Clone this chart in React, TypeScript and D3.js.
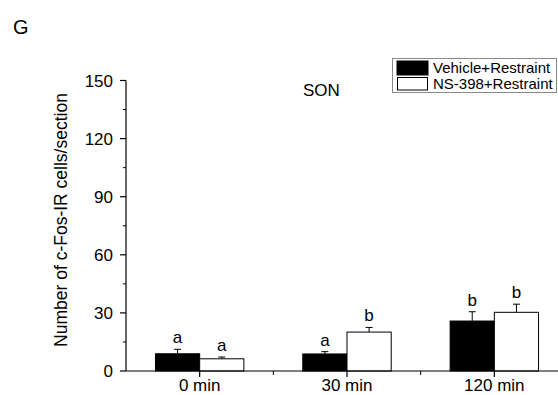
import React from "react";
import * as d3 from "d3";

const categories = ["0 min", "30 min", "120 min"];
const seriesNames = ["Vehicle+Restraint", "NS-398+Restraint"];
const vehicleMeans = [8.9, 8.8, 25.8];
const vehicleErr = [2.3, 1.2, 4.8];
const nsMeans = [6.3, 20.1, 30.3];
const nsErr = [0.9, 2.4, 4.2];
const vehicleLetters = ["a", "a", "b"];
const nsLetters = ["a", "b", "b"];
const yTicks = [0, 30, 60, 90, 120, 150];
const yMinorTicks = [15, 45, 75, 105, 135];

const font = "'Liberation Sans', Arial, Helvetica, sans-serif";

export default function App() {
  const width = 558;
  const height = 395;
  const axisX = 126;
  const axisY = 371;

  const y = d3.scaleLinear().domain([0, 150]).range([axisY, 80.5]);
  const x = d3.scaleBand().domain(categories).range([axisX, 568]).padding(0);
  const step = x.step();
  const sub = d3.scaleBand().domain(seriesNames).range([step * 0.2, step * 0.8]).padding(0);
  const bw = sub.bandwidth();

  const series = [
    { name: seriesNames[0], means: vehicleMeans, errs: vehicleErr, letters: vehicleLetters, fill: "#000" },
    { name: seriesNames[1], means: nsMeans, errs: nsErr, letters: nsLetters, fill: "#fff" },
  ];

  // minor x ticks sit between categories
  const minorX = categories.slice(1).map((c) => x(c) as number);

  return (
    <svg
      width={width}
      height={height}
      style={{ position: "absolute", left: 0, top: 0, background: "#fff" }}
      fontFamily={font}
    >
      <rect width={width} height={height} fill="#fff" />
      <text x={13} y={34} fontSize={20}>G</text>

      {/* bars */}
      {series.map((s) =>
        categories.map((c, i) => {
          const bx = (x(c) as number) + (sub(s.name) as number);
          const top = y(s.means[i]);
          const errTop = y(s.means[i] + s.errs[i]);
          const cx = bx + bw / 2;
          return (
            <g key={s.name + c}>
              <line x1={cx} x2={cx} y1={top} y2={errTop} stroke="#000" strokeWidth={1} />
              <line x1={cx - 3.5} x2={cx + 3.5} y1={errTop} y2={errTop} stroke="#000" strokeWidth={1} />
              <rect x={bx} y={top} width={bw} height={axisY - top} fill={s.fill} stroke="#000" strokeWidth={1} />
              <text x={cx} y={errTop - 6} fontSize={17} textAnchor="middle">{s.letters[i]}</text>
            </g>
          );
        })
      )}

      {/* y axis */}
      <line x1={axisX} x2={axisX} y1={y(150)} y2={axisY} stroke="#000" strokeWidth={1.2} />
      {yTicks.map((t) => (
        <g key={t}>
          <line x1={axisX - 6} x2={axisX} y1={y(t)} y2={y(t)} stroke="#000" strokeWidth={1.2} />
          <text x={axisX - 13} y={y(t) + 6} fontSize={17} textAnchor="end">{t}</text>
        </g>
      ))}
      {yMinorTicks.map((t) => (
        <line key={t} x1={axisX - 3} x2={axisX} y1={y(t)} y2={y(t)} stroke="#000" strokeWidth={1} />
      ))}

      {/* x axis */}
      <line x1={axisX} x2={width} y1={axisY} y2={axisY} stroke="#000" strokeWidth={1.2} />
      {categories.map((c) => {
        const cx = (x(c) as number) + step / 2;
        return (
          <g key={c}>
            <line x1={cx} x2={cx} y1={axisY} y2={axisY + 6} stroke="#000" strokeWidth={1.2} />
            <text x={cx} y={391} fontSize={17} textAnchor="middle">{c}</text>
          </g>
        );
      })}
      {minorX.map((mx) => (
        <line key={mx} x1={mx} x2={mx} y1={axisY} y2={axisY + 4} stroke="#000" strokeWidth={1} />
      ))}

      {/* y label */}
      <text transform="translate(67,220) rotate(-90)" fontSize={17.5} textAnchor="middle">
        Number of c-Fos-IR cells/section
      </text>

      <text x={303} y={96} fontSize={17}>SON</text>

      {/* legend */}
      <rect x={392.5} y={58.5} width={164} height={34} fill="#fff" stroke="#888" strokeWidth={1} />
      <rect x={397} y={61} width={31} height={14} fill="#000" stroke="#000" />
      <rect x={397.5} y={77.5} width={30} height={12.5} fill="#fff" stroke="#000" />
      <text x={433} y={73} fontSize={15}>{seriesNames[0]}</text>
      <text x={433} y={88.5} fontSize={15}>{seriesNames[1]}</text>
    </svg>
  );
}
